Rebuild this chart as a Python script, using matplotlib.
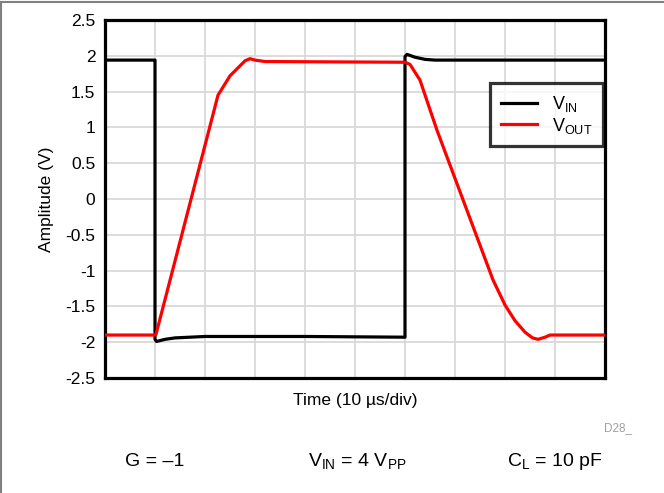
import matplotlib
matplotlib.use("Agg")
import matplotlib.pyplot as plt
from matplotlib.lines import Line2D

plt.rcParams['font.family'] = ['Liberation Sans', 'DejaVu Sans']
plt.rcParams['mathtext.fontset'] = 'custom'
plt.rcParams['mathtext.rm'] = 'Liberation Sans'

# Time in microseconds (10 us/div), amplitude in volts
vin_t = [0, 10, 10.0, 10.3, 12, 14, 17, 20, 40, 60, 60.0, 60.4, 62, 64, 66, 80, 100]
vin_v = [1.94, 1.94, -1.96, -1.99, -1.96, -1.94, -1.93, -1.92, -1.92, -1.93, 1.99, 2.02, 1.98, 1.95, 1.94, 1.94, 1.94]

vout_t = [0, 10, 10.2, 22.6, 25, 28, 29, 30, 32, 60, 61, 63, 66.4, 77.6, 80, 82, 84, 85.5, 86.6, 88, 89, 90, 100]
vout_v = [-1.90, -1.90, -1.89, 1.45, 1.72, 1.93, 1.96, 1.94, 1.92, 1.91, 1.88, 1.66, 0.96, -1.13, -1.48, -1.70, -1.86, -1.94, -1.96, -1.93, -1.90, -1.90, -1.90]

yticks = [-2.5, -2, -1.5, -1, -0.5, 0, 0.5, 1, 1.5, 2, 2.5]
ytick_labels = ['-2.5', '-2', '-1.5', '-1', '-0.5', '0', '0.5', '1', '1.5', '2', '2.5']
xgrid = list(range(0, 101, 10))

fig = plt.figure(figsize=(6.64, 4.93), dpi=100)
ax = fig.add_axes([105/664, 1-378/493, 500/664, 358/493])

ax.plot(vin_t, vin_v, color='black', lw=2.3, label=r'V$_{\mathregular{IN}}$', zorder=3)
ax.plot(vout_t, vout_v, color='#ff0000', lw=2.3, label=r'V$_{\mathregular{OUT}}$', zorder=4)

ax.set_xlim(0, 100)
ax.set_ylim(-2.5, 2.5)
ax.set_xticks(xgrid)
ax.set_xticklabels([])
ax.set_yticks(yticks)
ax.set_yticklabels(ytick_labels, fontsize=12.5)
ax.tick_params(length=0, pad=7)
ax.grid(True, color='#d9d9d9', lw=1.3)
ax.set_axisbelow(True)
for s in ax.spines.values():
    s.set_linewidth(2.3)
    s.set_color('black')

ax.set_xlabel('Time (10 µs/div)', fontsize=12.5, labelpad=4)
ax.set_ylabel('Amplitude (V)', fontsize=12.5, labelpad=8)

leg = ax.legend(loc='upper right', bbox_to_anchor=(0.996, 0.824), fontsize=13,
                frameon=True, fancybox=False, borderpad=0.6, handlelength=2.0,
                labelspacing=0.1, handletextpad=0.8, borderaxespad=0)
leg.get_frame().set_edgecolor('black')
leg.get_frame().set_linewidth(2.3)

fig.text(155/664, 1-462/493, 'G = –1', fontsize=14, ha='center', va='center')
fig.text(357/664, 1-462/493, r'V$_{\mathregular{IN}}$ = 4 V$_{\mathregular{PP}}$', fontsize=14, ha='center', va='center')
fig.text(555/664, 1-462/493, r'C$_{\mathregular{L}}$ = 10 pF', fontsize=14, ha='center', va='center')
fig.text(618/664, 1-428/493, 'D28_', fontsize=8.5, color='#a0a0a0', ha='center', va='center')

fig.add_artist(Line2D([0.5/664, 0.5/664], [0, 1-2/493], transform=fig.transFigure, color='#808080', lw=1.5))
fig.add_artist(Line2D([0, 1], [1-2/493, 1-2/493], transform=fig.transFigure, color='#808080', lw=1.5))

fig.savefig('out.png', dpi=100)
